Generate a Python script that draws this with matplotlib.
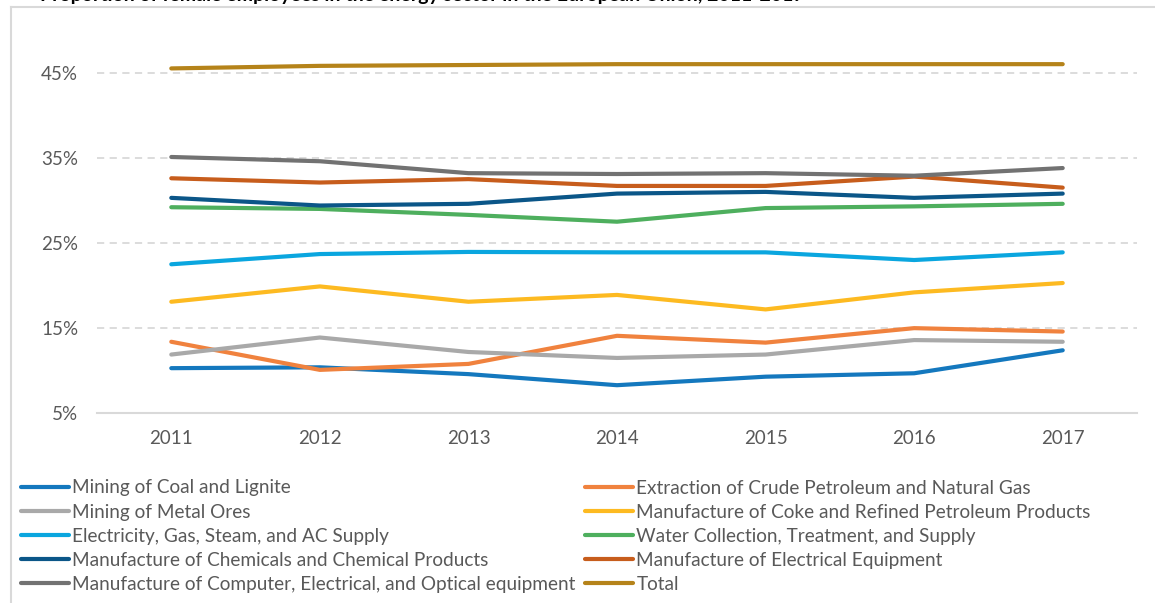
import matplotlib.pyplot as plt
from matplotlib.lines import Line2D
from matplotlib.ticker import PercentFormatter

plt.rcParams['font.family'] = ['Lato', 'DejaVu Sans']

years = ['2011', '2012', '2013', '2014', '2015', '2016', '2017']

coal = [10.3, 10.4, 9.6, 8.3, 9.3, 9.7, 12.4]
crude = [13.4, 10.1, 10.8, 14.1, 13.3, 15.0, 14.6]
metal_ores = [11.9, 13.9, 12.2, 11.5, 11.9, 13.6, 13.4]
coke = [18.1, 19.9, 18.1, 18.9, 17.2, 19.2, 20.3]
electricity = [22.5, 23.7, 23.95, 23.9, 23.9, 23.0, 23.9]
water = [29.2, 29.0, 28.3, 27.5, 29.1, 29.3, 29.6]
chemicals = [30.3, 29.4, 29.6, 30.8, 31.0, 30.3, 30.8]
elec_equipment = [32.6, 32.1, 32.5, 31.7, 31.7, 32.8, 31.5]
computer = [35.1, 34.6, 33.2, 33.1, 33.2, 32.9, 33.8]
total = [45.5, 45.8, 45.9, 46.0, 46.0, 46.0, 46.0]

series = [
    ("Mining of Coal and Lignite", coal, "#1478BE"),
    ("Extraction of Crude Petroleum and Natural Gas", crude, "#F0823E"),
    ("Mining of Metal Ores", metal_ores, "#A9A9A9"),
    ("Manufacture of Coke and Refined Petroleum Products", coke, "#FDBA21"),
    ("Electricity, Gas, Steam, and AC Supply", electricity, "#0AA6DF"),
    ("Water Collection, Treatment, and Supply", water, "#4EAF5E"),
    ("Manufacture of Chemicals and Chemical Products", chemicals, "#0B5688"),
    ("Manufacture of Electrical Equipment", elec_equipment, "#C75D1C"),
    ("Manufacture of Computer, Electrical, and Optical equipment", computer, "#727272"),
    ("Total", total, "#B5831A"),
]

fig = plt.figure(figsize=(11.55, 6.03), dpi=100)
ax = fig.add_axes([97 / 1155, 1 - 413.3 / 603, 1040 / 1155, (413.3 - 30.1) / 603])

handles = []
for label, vals, color in series:
    h, = ax.plot(years, vals, color=color, lw=3, solid_capstyle='round', label=label, zorder=3)
    handles.append(h)

ax.set_xlim(-0.5, 6.5)
ax.set_ylim(5, 50)
ax.set_yticks([5, 15, 25, 35, 45])
ax.yaxis.set_major_formatter(PercentFormatter(decimals=0))
ax.grid(axis='y', color='#D9D9D9', lw=1.3, ls=(0, (4, 3)), zorder=0)
for s in ['top', 'right', 'left']:
    ax.spines[s].set_visible(False)
ax.spines['bottom'].set_color('#D9D9D9')
ax.spines['bottom'].set_linewidth(1.5)
ax.tick_params(length=0, labelsize=13.5, colors='#595959')
ax.tick_params(axis='y', pad=13.5)
ax.tick_params(axis='x', pad=12)

# chart frame (left and top edge only visible)
fig.add_artist(Line2D([11 / 1155, 11 / 1155], [0, 1 - 6.5 / 603], color='#D9D9D9', lw=1.5))
fig.add_artist(Line2D([11 / 1155, 1], [1 - 6.5 / 603, 1 - 6.5 / 603], color='#D9D9D9', lw=1.5))

# title, cut off at the top like in the original
fig.text(40 / 1155, 1 - 1.5 / 603,
         "Proportion of female employees in the energy sector in the European Union, 2011-2017",
         fontsize=14, fontweight='bold', color='black', va='baseline')

leg_kw = dict(loc='upper left', frameon=False, fontsize=13.7, handlelength=2.5,
              handletextpad=0.2, labelspacing=0.37, borderpad=0, borderaxespad=0,
              labelcolor='#595959')
leg1 = fig.legend(handles[0::2], [s[0] for s in series[0::2]],
                  bbox_to_anchor=(21 / 1155, 1 - 479.5 / 603), **leg_kw)
leg2 = fig.legend(handles[1::2], [s[0] for s in series[1::2]],
                  bbox_to_anchor=(585 / 1155, 1 - 479.5 / 603), **leg_kw)

fig.savefig("out.png", dpi=100)
